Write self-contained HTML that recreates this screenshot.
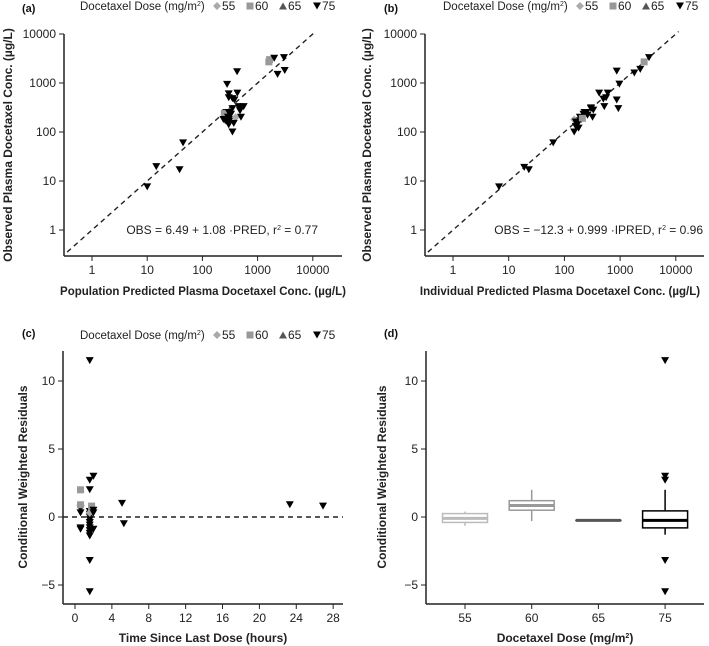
<!DOCTYPE html>
<html><head><meta charset="utf-8"><style>
body{margin:0;background:#fff}
svg{display:block;font-family:"Liberation Sans",Arial,sans-serif}
</style></head><body>
<svg id="c" width="709" height="646" viewBox="0 0 709 646" xmlns="http://www.w3.org/2000/svg"></svg>
<script>
// ---- data ----
const doseLevels = [55, 60, 65, 75];
const doseColors = ["#aaaaaa", "#999999", "#555555", "#000000"];
// panel a: PRED, OBS, dose
const aPred = [10,14.6,38.6,44.6,280,425,300,430,300,350,380,450,560,480,350,270,250,290,320,400,500,280,300,350,370,260,470,330,240,300,1600,1650,2000,3000,2300,3100];
const aObs  = [7.6,19.6,17,60,940,1700,600,620,500,480,450,330,330,270,300,250,240,200,180,200,200,160,140,100,150,170,300,230,180,250,2700,3000,3200,3300,1500,1800];
const aDose = [75,75,75,75,75,75,75,75,75,75,75,75,75,75,75,75,60,75,75,55,75,75,75,75,75,75,75,75,75,75,60,60,75,75,75,75];
// panel b: IPRED, OBS, dose
const bIpred = [6.7,19,23,63,150,160,170,180,200,220,230,250,300,320,330,420,500,520,560,600,930,870,870,970,1800,2300,2700,3300,150,160,190,260,300,210,180,170];
const bObs   = [7.6,19,17,60,100,130,150,170,180,230,250,250,300,200,280,620,470,330,500,620,300,450,1750,950,1600,1900,2700,3300,180,160,200,220,310,190,120,140];
const bDose  = [75,75,75,75,75,75,75,75,75,75,75,75,75,75,75,75,75,75,75,75,75,75,75,75,75,75,60,75,55,75,75,75,75,60,75,75];
// panel c: time, CWRES, dose
const cTime = [0.6,0.6,0.6,0.6,0.6,0.6,1.6,1.6,1.6,1.6,1.6,1.6,1.6,1.6,1.6,1.6,1.6,1.6,1.6,1.6,1.6,1.8,1.8,1.6,2.0,2.0,2.0,2.0,5.1,5.3,23.3,26.9];
const cRes  = [0.6,0.3,-0.8,-0.9,2.0,0.9,11.5,2.7,2.0,0.4,0.2,0,-0.2,-0.4,-0.6,-0.8,-1.0,-1.2,-1.4,-3.2,-5.5,0.8,0.6,0.3,3.0,0.5,0.3,-0.9,1.0,-0.5,0.9,0.8];
const cDose = [75,75,75,75,60,60,75,75,75,75,75,75,75,75,75,75,75,75,75,75,75,60,60,55,75,75,75,75,75,75,75,75];
// panel d: box stats per dose [lowWhisker, q1, median, q3, highWhisker]
const dLow = [-0.65,-0.3,-0.25,-1.3];
const dQ1  = [-0.4,0.5,-0.25,-0.8];
const dMed = [-0.1,0.85,-0.25,-0.25];
const dQ3  = [0.25,1.2,-0.25,0.45];
const dHigh= [0.4,2.0,-0.25,2.0];
const dOutDose = [75,75,75,75,75];
const dOutVal  = [11.5,3.0,2.7,-3.2,-5.5];
const logTicks = [1,10,100,1000,10000];
const resTicks = [-5,0,5,10];
const timeTicks = [0,4,8,12,16,20,24,28];

const NS="http://www.w3.org/2000/svg";
const svg=document.getElementById('c');
function el(tag,attrs,parent,text){const e=document.createElementNS(NS,tag);for(const k in attrs)e.setAttribute(k,attrs[k]);if(text!==undefined)e.textContent=text;(parent||svg).appendChild(e);return e;}

function marker(g,x,y,dose){
  const i=doseLevels.indexOf(dose), col=doseColors[i];
  let m;
  if(dose===75) m=el('polygon',{points:`${x-4},${y-3.5} ${x+4},${y-3.5} ${x},${y+3.5}`,fill:col},g);
  else if(dose===60) m=el('rect',{x:x-3.5,y:y-3.5,width:7,height:7,fill:col},g);
  else if(dose===55) m=el('polygon',{points:`${x},${y-4} ${x+4},${y} ${x},${y+4} ${x-4},${y}`,fill:col},g);
  else m=el('polygon',{points:`${x-4},${y+3.5} ${x+4},${y+3.5} ${x},${y-3.5}`,fill:col},g);
  
  
}
function legend(x,y){
  const g=el('g',{},svg);
  
  
  const t=el('text',{x:x,y:y,'font-size':11.5,fill:'#222'},g);
  t.innerHTML='Docetaxel Dose (mg/m<tspan font-size="7" dy="-4">2</tspan><tspan dy="4">)</tspan>';
  const off=[137,170,203,237];
  doseLevels.forEach((d,i)=>{marker(g,x+off[i],y-4,d);el('text',{x:x+off[i]+5,y:y,'font-size':12,fill:'#222'},g,String(d));});
}
function label(x,y,s){const t=el('text',{x:x,y:y,'font-size':11,'font-weight':'bold',fill:'#111'},svg,s);}

function logPanel(o){
  const g=el('g',{},svg);
  
  
  const X=v=>o.x1+(Math.log10(v))*o.dx, Y=v=>o.y1-(Math.log10(v))*o.dy;
  el('line',{x1:o.ax,y1:Y(10000),x2:o.ax,y2:o.bottom,stroke:'#222','stroke-width':1.5},g);
  el('line',{x1:o.ax,y1:o.bottom,x2:o.right,y2:o.bottom,stroke:'#222','stroke-width':1.5},g);
  logTicks.forEach(v=>{
    el('line',{x1:o.ax-5,y1:Y(v),x2:o.ax,y2:Y(v),stroke:'#222'},g);
    el('text',{x:o.ax-8,y:Y(v)+4,'text-anchor':'end','font-size':12,fill:'#222'},g,String(v));
    el('line',{x1:X(v),y1:o.bottom,x2:X(v),y2:o.bottom+5,stroke:'#222'},g);
    el('text',{x:X(v),y:o.bottom+18,'text-anchor':'middle','font-size':12,fill:'#222'},g,String(v));
  });
  const lo=Math.pow(10,-0.45), hi=Math.pow(10,4.05);
  el('line',{x1:X(lo),y1:Y(lo),x2:X(hi),y2:Y(hi),stroke:'#222','stroke-width':1.4,'stroke-dasharray':'5,4'},g);
  o.xs.forEach((v,i)=>marker(g,X(v),Y(o.ys[i]),o.ds[i]));
  const t=el('text',{x:o.eqx,y:Y(1)+4,'text-anchor':'end','font-size':12,fill:'#222'},g);
  t.innerHTML=o.eq;
  el('text',{x:o.xlx,y:o.bottom+39,'text-anchor':'middle','font-size':11.5,'font-weight':'bold',fill:'#222'},g,o.xlab);
  el('text',{x:0,y:0,transform:`translate(${o.ylx},${(Y(10000)+o.bottom)/2}) rotate(-90)`,'text-anchor':'middle','font-size':12,'font-weight':'bold',fill:'#222'},g,'Observed Plasma Docetaxel Conc. (µg/L)');
}
logPanel({name:'panel-a',x1:92,dx:55.2,y1:230,dy:49,ax:64,bottom:256,right:342,xs:aPred,ys:aObs,ds:aDose,eqx:318,
  eq:'OBS = 6.49 + 1.08 ·PRED, r<tspan font-size="7" dy="-4">2</tspan><tspan dy="4"> = 0.77</tspan>',
  xlab:'Population Predicted Plasma Docetaxel Conc. (µg/L)',ylx:12,xlx:203});
logPanel({name:'panel-b',x1:453,dx:55.7,y1:230,dy:49,ax:425,bottom:256,right:704,xs:bIpred,ys:bObs,ds:bDose,eqx:703,
  eq:'OBS = −12.3 + 0.999 ·IPRED, r<tspan font-size="7" dy="-4">2</tspan><tspan dy="4"> = 0.96</tspan>',
  xlab:'Individual Predicted Plasma Docetaxel Conc. (µg/L)',ylx:371,xlx:560});
label(22,12,'(a)');label(384,12,'(b)');label(22,337,'(c)');label(384,337,'(d)');
legend(80,10);legend(443,10);legend(80,339);

function resAxes(g,ax,right,ylx){
  const Y=v=>517-v*13.6;
  el('line',{x1:ax,y1:351,x2:ax,y2:604,stroke:'#222','stroke-width':1.5},g);
  el('line',{x1:ax,y1:604,x2:right,y2:604,stroke:'#222','stroke-width':1.5},g);
  resTicks.forEach(v=>{
    el('line',{x1:ax-5,y1:Y(v),x2:ax,y2:Y(v),stroke:'#222'},g);
    el('text',{x:ax-8,y:Y(v)+4,'text-anchor':'end','font-size':12,fill:'#222'},g,v<0?'−'+(-v):String(v));
  });
  el('text',{x:0,y:0,transform:`translate(${ylx},477) rotate(-90)`,'text-anchor':'middle','font-size':12,'font-weight':'bold',fill:'#222'},g,'Conditional Weighted Residuals');
  return Y;
}
// panel c
(function(){
  const g=el('g',{},svg);
  
  
  const Y=resAxes(g,63,343,27);
  const X=v=>75+v*9.22;
  timeTicks.forEach(v=>{
    el('line',{x1:X(v),y1:604,x2:X(v),y2:609,stroke:'#222'},g);
    el('text',{x:X(v),y:622,'text-anchor':'middle','font-size':12,fill:'#222'},g,String(v));
  });
  el('line',{x1:63,y1:Y(0),x2:343,y2:Y(0),stroke:'#222','stroke-width':1.4,'stroke-dasharray':'5,4'},g);
  cTime.forEach((t,i)=>marker(g,X(t),Y(cRes[i]),cDose[i]));
  el('text',{x:203,y:642,'text-anchor':'middle','font-size':12,'font-weight':'bold',fill:'#222'},g,'Time Since Last Dose (hours)');
})();
// panel d
(function(){
  const g=el('g',{},svg);
  
  
  const Y=resAxes(g,426,704,386);
  const X=d=>465+doseLevels.indexOf(d)*66.7;
  doseLevels.forEach((d,i)=>{
    const x=X(d), c=doseColors[i]==='#aaaaaa'?'#bbbbbb':doseColors[i], w=22.5;
    el('line',{x1:x,y1:604,x2:x,y2:609,stroke:'#222'},g);
    el('text',{x:x,y:622,'text-anchor':'middle','font-size':12,fill:'#222'},g,String(d));
    const b=el('g',{},g);
    
    
    el('line',{x1:x,y1:Y(dLow[i]),x2:x,y2:Y(dHigh[i]),stroke:c,'stroke-width':1.5},b);
    el('rect',{x:x-w,y:Y(dQ3[i]),width:2*w,height:Math.max(0.1,Y(dQ1[i])-Y(dQ3[i])),fill:'#fff',stroke:c,'stroke-width':1.5},b);
    el('line',{x1:x-w,y1:Y(dMed[i]),x2:x+w,y2:Y(dMed[i]),stroke:c,'stroke-width':3},b);
  });
  dOutVal.forEach((v,i)=>marker(g,X(dOutDose[i]),Y(v),dOutDose[i]));
  const t=el('text',{x:565,y:642,'text-anchor':'middle','font-size':12,'font-weight':'bold',fill:'#222'},g);
  t.innerHTML='Docetaxel Dose (mg/m<tspan font-size="7" dy="-4">2</tspan><tspan dy="4">)</tspan>';
})();
</script>
</body></html>
